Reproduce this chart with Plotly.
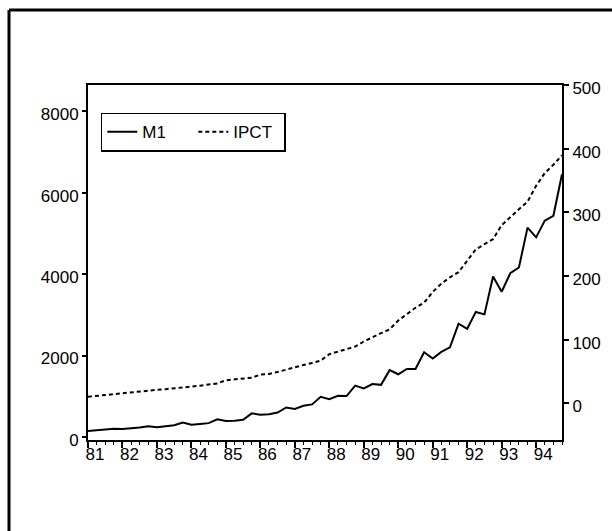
import plotly.graph_objects as go

# Quarterly observations 1981Q1 .. 1994Q4 (index 0..55)
quarters = [f"{y}Q{q}" for y in range(1981, 1995) for q in range(1, 5)]
year_labels = [str(y)[2:] for y in range(1981, 1995)]

m1 = [145, 160, 180, 200, 195, 210, 235, 265, 240, 265, 290, 355,
      300, 320, 340, 435, 390, 400, 420, 580, 545, 560, 600, 725,
      690, 765, 800, 985, 925, 1010, 1005, 1260, 1190, 1300, 1280, 1640,
      1540, 1670, 1670, 2080, 1925, 2090, 2200, 2780, 2655, 3070, 3010, 3940,
      3565, 4020, 4160, 5140, 4900, 5310, 5430, 6450]

ipct = [10, 11.5, 13, 14.5, 16, 17, 18.5, 20, 21, 22, 23, 24.5,
        26, 27.5, 29, 31, 36, 37.5, 38.5, 40, 45, 46, 49, 53,
        57, 60, 63, 67, 77, 81, 85, 89, 97, 104, 110, 116,
        130, 140, 150, 158, 175, 188, 198, 206, 225, 242, 250, 258,
        280, 293, 305, 317, 342, 362, 375, 390]

left_ticks = [0, 2000, 4000, 6000, 8000]
right_ticks = [0, 100, 200, 300, 400, 500]

idx = list(range(len(quarters)))
FONT = dict(family="Liberation Sans, Arial, sans-serif", size=17, color="black")

fig = go.Figure()
fig.add_trace(go.Scatter(x=idx, y=m1, name="M1", mode="lines",
                         line=dict(color="black", width=2),
                         hovertext=quarters))
fig.add_trace(go.Scatter(x=idx, y=ipct, name="IPCT", mode="lines", yaxis="y2",
                         line=dict(color="black", width=2, dash="4px,3px"),
                         hovertext=quarters))

fig.update_layout(
    width=612, height=531,
    margin=dict(l=88, r=50, t=85, b=91),
    paper_bgcolor="white", plot_bgcolor="white",
    font=FONT,
    showlegend=True,
    legend=dict(orientation="h", x=0.027, y=0.922, xanchor="left", yanchor="top",
                bordercolor="black", borderwidth=1.5, bgcolor="white",
                font=FONT, itemwidth=30, tracegroupgap=0,
                entrywidth=46, entrywidthmode="pixels"),
    xaxis=dict(range=[0, 55], showgrid=False, zeroline=False,
               showline=True, linecolor="black", linewidth=2, mirror=True,
               tickmode="array", tickvals=[4 * i for i in range(len(year_labels))],
               ticktext=year_labels, ticks="outside", ticklen=6, tickwidth=1.5,
               tickcolor="black", ticklabelshift=7, ticklabelstandoff=-8,
               minor=dict(tickmode="linear", tick0=0, dtick=1, ticks="outside",
                          ticklen=3, tickwidth=1.2, tickcolor="black")),
    yaxis=dict(range=[-74, 8640], showgrid=False, zeroline=False,
               showline=True, linecolor="black", linewidth=2,
               tickmode="array", tickvals=left_ticks,
               ticks="outside", ticklen=4, tickwidth=1.5, tickcolor="black",
               ticklabelshift=3),
    yaxis2=dict(range=[-58, 500.5], overlaying="y", side="right", anchor="x",
                showgrid=False, zeroline=False,
                showline=True, linecolor="black", linewidth=2,
                tickmode="array", tickvals=right_ticks,
                ticks="outside", ticklen=5, tickwidth=1.5, tickcolor="black",
                ticklabelshift=3),
)

# outer frame (left and top edges of the scanned page border)
fig.add_shape(type="line", xref="paper", yref="paper",
              x0=(9 - 88) / 474, x1=(9 - 88) / 474,
              y0=(440 - 540) / 355, y1=(440 - 10) / 355,
              line=dict(color="black", width=3))
fig.add_shape(type="line", xref="paper", yref="paper",
              x0=(9 - 88) / 474, x1=(620 - 88) / 474,
              y0=(440 - 10) / 355, y1=(440 - 10) / 355,
              line=dict(color="black", width=3))

fig.write_html("out.html")
